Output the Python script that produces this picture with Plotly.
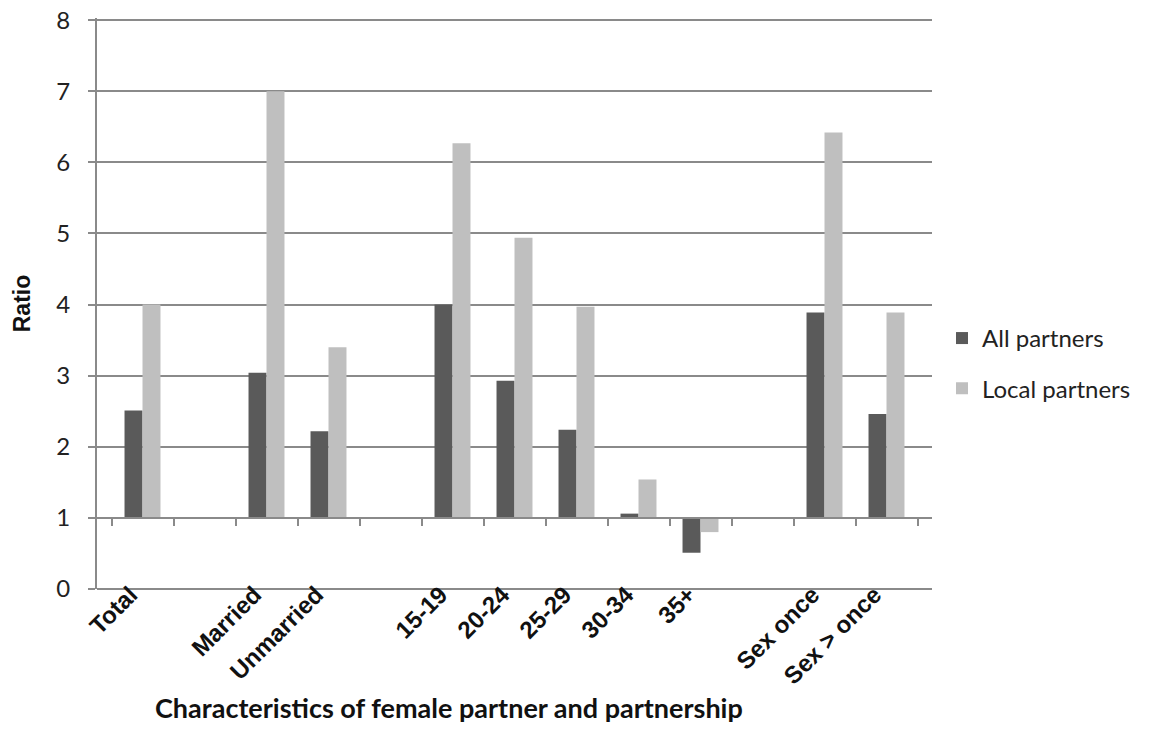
import plotly.graph_objects as go

categories = ["Total", " ", "Married", "Unmarried", "  ", "15-19", "20-24", "25-29",
              "30-34", "35+", "   ", "Sex once", "Sex > once"]
all_partners = [2.51, None, 3.04, 2.22, None, 4.00, 2.93, 2.24, 1.06, 0.51, None, 3.89, 2.46]
local_partners = [4.00, None, 7.00, 3.40, None, 6.27, 4.94, 3.97, 1.54, 0.80, None, 6.42, 3.89]
baseline = 1.0
y_ticks = [0, 1, 2, 3, 4, 5, 6, 7, 8]

FONT = "Lato"
ARIAL = "Liberation Sans"
AXIS_COLOR = "#8a8a8a"

def rel(vals):
    return [None if v is None else v - baseline for v in vals]

fig = go.Figure()
fig.add_trace(go.Bar(name="All partners", x=categories, y=rel(all_partners), base=baseline,
                     legendgroup="a", marker=dict(color="#5a5a5a", line=dict(width=0))))
fig.add_trace(go.Bar(name="Local partners", x=categories, y=rel(local_partners), base=baseline,
                     legendgroup="b", marker=dict(color="#bfbfbf", line=dict(width=0))))

# secondary x-axis drawn at y = 1 (category axis line with boundary ticks)
fig.add_trace(go.Scatter(x=categories, y=[None]*len(categories), xaxis="x2", yaxis="y",
                         showlegend=False, hoverinfo="skip"))

fig.update_layout(
    width=1157, height=747,
    paper_bgcolor="white", plot_bgcolor="white",
    margin=dict(l=89, r=233, t=10, b=166, autoexpand=False),
    barmode="group", bargap=0.42, bargroupgap=0,
    font=dict(family=FONT, size=21, color="#222"),
    xaxis=dict(
        type="category", categoryorder="array", categoryarray=categories,
        tickangle=-45, showgrid=False, showline=False, ticks="", automargin=False,
        ticklabelstandoff=-14, ticklabelshift=-12,
        tickfont=dict(family=ARIAL, size=24, color="#111", weight="bold"),
    ),
    xaxis2=dict(
        type="category", categoryorder="array", categoryarray=categories,
        overlaying="x", anchor="free", position=0.125, side="bottom",
        showline=True, linecolor=AXIS_COLOR, linewidth=2,
        ticks="outside", tickson="boundaries", ticklen=7, tickwidth=2, tickcolor=AXIS_COLOR,
        showticklabels=False, showgrid=False, matches="x",
    ),
    yaxis=dict(
        range=[0, 8.03], tickvals=y_ticks, showgrid=True, gridcolor=AXIS_COLOR, gridwidth=2,
        zeroline=True, zerolinecolor=AXIS_COLOR, zerolinewidth=2,
        showline=True, linecolor=AXIS_COLOR, linewidth=2, automargin=False,
        ticks="outside", ticklen=7, tickwidth=2, tickcolor=AXIS_COLOR,
        ticklabelstandoff=13, ticklabeloverflow="allow",
        tickfont=dict(family=FONT, size=24, color="#222"),
        title=dict(text="<b>Ratio</b>", font=dict(family=ARIAL, size=23, color="#111"), standoff=19),
    ),
    legend=dict(x=1.012, y=0.395, xanchor="left", yanchor="middle",
                font=dict(family=FONT, size=24, color="#222"), tracegroupgap=16,
                traceorder="grouped", itemsizing="constant"),
    annotations=[dict(text="<b>Characteristics of female partner and partnership</b>",
                      xref="paper", yref="paper", x=0.421, y=-0.208,
                      xanchor="center", yanchor="middle", showarrow=False,
                      font=dict(family=FONT, size=27, color="#111"))],
)

fig.write_html("out.html")
